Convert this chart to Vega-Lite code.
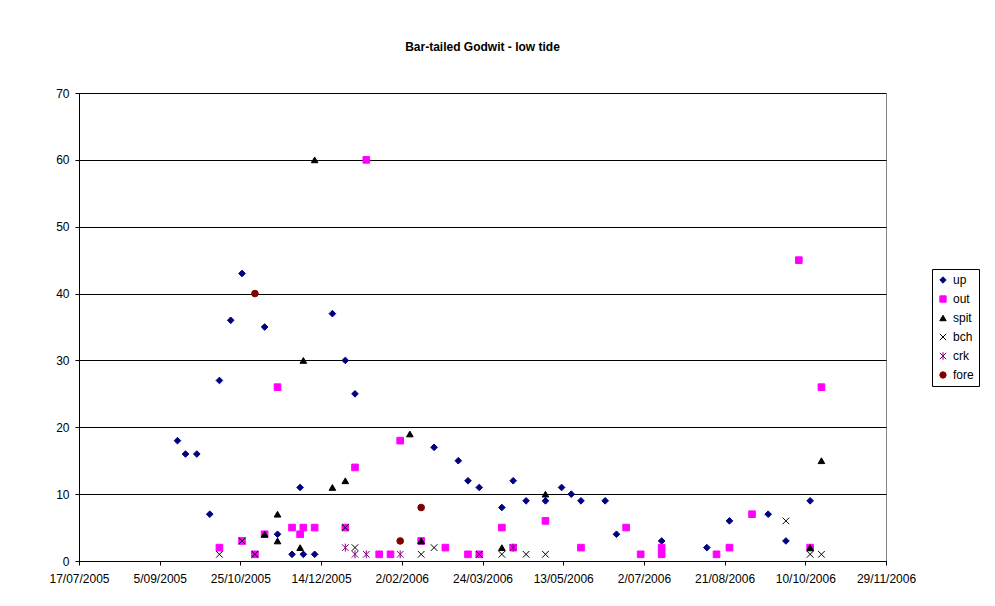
{
  "$schema": "https://vega.github.io/schema/vega-lite/v6.json",
  "autosize": {"type": "none"},
  "width": 807,
  "height": 468,
  "padding": {"left": 79, "top": 93, "right": 109, "bottom": 45},
  "background": "white",
  "title": {"text": "Bar-tailed Godwit - low tide", "font": "Liberation Sans", "fontSize": 12, "fontWeight": "bold", "color": "black", "anchor": "middle", "frame": "group", "baseline": "alphabetic", "offset": 24},
  "config": {
    "view": {"stroke": "#808080", "strokeWidth": 1},
    "axis": {"labelFont": "Liberation Sans", "labelFontSize": 12, "labelColor": "black", "domainColor": "black", "tickColor": "black", "tickSize": 4, "title": null},
    "legend": {"labelFont": "Liberation Sans", "labelFontSize": 12, "labelColor": "black"}
  },
  "data": {"values": [
    {"date": "2005-09-16", "series": "up", "count": 18},
    {"date": "2005-09-21", "series": "up", "count": 16},
    {"date": "2005-09-28", "series": "up", "count": 16},
    {"date": "2005-10-06", "series": "up", "count": 7},
    {"date": "2005-10-12", "series": "up", "count": 27},
    {"date": "2005-10-19", "series": "up", "count": 36},
    {"date": "2005-10-26", "series": "up", "count": 43},
    {"date": "2005-11-09", "series": "up", "count": 35},
    {"date": "2005-11-17", "series": "up", "count": 4},
    {"date": "2005-11-26", "series": "up", "count": 1},
    {"date": "2005-12-01", "series": "up", "count": 11},
    {"date": "2005-12-03", "series": "up", "count": 1},
    {"date": "2005-12-10", "series": "up", "count": 1},
    {"date": "2005-12-21", "series": "up", "count": 37},
    {"date": "2005-12-29", "series": "up", "count": 30},
    {"date": "2006-01-04", "series": "up", "count": 25},
    {"date": "2006-02-22", "series": "up", "count": 17},
    {"date": "2006-03-09", "series": "up", "count": 15},
    {"date": "2006-03-15", "series": "up", "count": 12},
    {"date": "2006-03-22", "series": "up", "count": 11},
    {"date": "2006-04-05", "series": "up", "count": 8},
    {"date": "2006-04-12", "series": "up", "count": 12},
    {"date": "2006-04-20", "series": "up", "count": 9},
    {"date": "2006-05-02", "series": "up", "count": 9},
    {"date": "2006-05-12", "series": "up", "count": 11},
    {"date": "2006-05-18", "series": "up", "count": 10},
    {"date": "2006-05-24", "series": "up", "count": 9},
    {"date": "2006-06-08", "series": "up", "count": 9},
    {"date": "2006-06-15", "series": "up", "count": 4},
    {"date": "2006-07-13", "series": "up", "count": 3},
    {"date": "2006-08-10", "series": "up", "count": 2},
    {"date": "2006-08-24", "series": "up", "count": 6},
    {"date": "2006-09-17", "series": "up", "count": 7},
    {"date": "2006-09-28", "series": "up", "count": 3},
    {"date": "2006-10-13", "series": "up", "count": 9},
    {"date": "2005-10-12", "series": "out", "count": 2},
    {"date": "2005-10-26", "series": "out", "count": 3},
    {"date": "2005-11-03", "series": "out", "count": 1},
    {"date": "2005-11-09", "series": "out", "count": 4},
    {"date": "2005-11-17", "series": "out", "count": 26},
    {"date": "2005-11-26", "series": "out", "count": 5},
    {"date": "2005-12-01", "series": "out", "count": 4},
    {"date": "2005-12-03", "series": "out", "count": 5},
    {"date": "2005-12-10", "series": "out", "count": 5},
    {"date": "2005-12-29", "series": "out", "count": 5},
    {"date": "2006-01-04", "series": "out", "count": 14},
    {"date": "2006-01-11", "series": "out", "count": 60},
    {"date": "2006-01-19", "series": "out", "count": 1},
    {"date": "2006-01-26", "series": "out", "count": 1},
    {"date": "2006-02-01", "series": "out", "count": 18},
    {"date": "2006-02-14", "series": "out", "count": 3},
    {"date": "2006-03-01", "series": "out", "count": 2},
    {"date": "2006-03-15", "series": "out", "count": 1},
    {"date": "2006-03-22", "series": "out", "count": 1},
    {"date": "2006-04-05", "series": "out", "count": 5},
    {"date": "2006-04-12", "series": "out", "count": 2},
    {"date": "2006-05-02", "series": "out", "count": 6},
    {"date": "2006-05-24", "series": "out", "count": 2},
    {"date": "2006-06-21", "series": "out", "count": 5},
    {"date": "2006-06-30", "series": "out", "count": 1},
    {"date": "2006-07-13", "series": "out", "count": 2},
    {"date": "2006-07-13", "series": "out", "count": 1},
    {"date": "2006-08-16", "series": "out", "count": 1},
    {"date": "2006-08-24", "series": "out", "count": 2},
    {"date": "2006-09-07", "series": "out", "count": 7},
    {"date": "2006-10-06", "series": "out", "count": 45},
    {"date": "2006-10-13", "series": "out", "count": 2},
    {"date": "2006-10-20", "series": "out", "count": 26},
    {"date": "2005-11-09", "series": "spit", "count": 4},
    {"date": "2005-11-17", "series": "spit", "count": 7},
    {"date": "2005-11-17", "series": "spit", "count": 3},
    {"date": "2005-12-01", "series": "spit", "count": 2},
    {"date": "2005-12-03", "series": "spit", "count": 30},
    {"date": "2005-12-10", "series": "spit", "count": 60},
    {"date": "2005-12-21", "series": "spit", "count": 11},
    {"date": "2005-12-29", "series": "spit", "count": 12},
    {"date": "2006-02-07", "series": "spit", "count": 19},
    {"date": "2006-02-14", "series": "spit", "count": 3},
    {"date": "2006-04-05", "series": "spit", "count": 2},
    {"date": "2006-05-02", "series": "spit", "count": 10},
    {"date": "2006-10-13", "series": "spit", "count": 2},
    {"date": "2006-10-20", "series": "spit", "count": 15},
    {"date": "2005-10-12", "series": "bch", "count": 1},
    {"date": "2005-10-26", "series": "bch", "count": 3},
    {"date": "2005-11-03", "series": "bch", "count": 1},
    {"date": "2005-12-29", "series": "bch", "count": 5},
    {"date": "2006-01-04", "series": "bch", "count": 2},
    {"date": "2006-02-14", "series": "bch", "count": 1},
    {"date": "2006-02-22", "series": "bch", "count": 2},
    {"date": "2006-03-22", "series": "bch", "count": 1},
    {"date": "2006-04-05", "series": "bch", "count": 1},
    {"date": "2006-04-20", "series": "bch", "count": 1},
    {"date": "2006-05-02", "series": "bch", "count": 1},
    {"date": "2006-09-28", "series": "bch", "count": 6},
    {"date": "2006-10-13", "series": "bch", "count": 1},
    {"date": "2006-10-20", "series": "bch", "count": 1},
    {"date": "2005-12-29", "series": "crk", "count": 2},
    {"date": "2006-01-04", "series": "crk", "count": 1},
    {"date": "2006-01-11", "series": "crk", "count": 1},
    {"date": "2006-02-01", "series": "crk", "count": 1},
    {"date": "2006-04-12", "series": "crk", "count": 2},
    {"date": "2005-11-03", "series": "fore", "count": 40},
    {"date": "2006-02-01", "series": "fore", "count": 3},
    {"date": "2006-02-14", "series": "fore", "count": 8}
  ]},
  "mark": {"type": "point", "filled": true, "opacity": 1, "size": 44, "strokeWidth": 1},
  "encoding": {
    "x": {
      "field": "date", "type": "temporal",
      "scale": {"type": "utc", "domain": [{"year": 2005, "month": 7, "date": 17, "utc": true}, {"year": 2006, "month": 11, "date": 29, "utc": true}], "nice": false},
      "axis": {
        "grid": false, "labelExpr": "utcFormat(datum.value, '%-d/%m/%Y')", "labelPadding": 8, "labelAngle": 0,
        "values": [
          {"year": 2005, "month": 7, "date": 17, "utc": true},
          {"year": 2005, "month": 9, "date": 5, "utc": true},
          {"year": 2005, "month": 10, "date": 25, "utc": true},
          {"year": 2005, "month": 12, "date": 14, "utc": true},
          {"year": 2006, "month": 2, "date": 2, "utc": true},
          {"year": 2006, "month": 3, "date": 24, "utc": true},
          {"year": 2006, "month": 5, "date": 13, "utc": true},
          {"year": 2006, "month": 7, "date": 2, "utc": true},
          {"year": 2006, "month": 8, "date": 21, "utc": true},
          {"year": 2006, "month": 10, "date": 10, "utc": true},
          {"year": 2006, "month": 11, "date": 29, "utc": true}
        ],
        "labelOverlap": false, "labelFlush": false
      }
    },
    "y": {
      "field": "count", "type": "quantitative",
      "scale": {"domain": [0, 70], "nice": false},
      "axis": {"values": [0, 10, 20, 30, 40, 50, 60, 70], "grid": true, "gridColor": "black", "gridOpacity": 1, "labelPadding": 6}
    },
    "shape": {
      "field": "series", "type": "nominal",
      "scale": {"domain": ["up", "out", "spit", "bch", "crk", "fore"], "range": ["diamond", "square", "triangle-up", "M-1,-1L1,1M-1,1L1,-1", "M-1,-1L1,1M-1,1L1,-1M0,-1.2L0,1.2", "circle"]},
      "legend": {"title": null, "orient": "none", "legendX": 853, "legendY": 176, "strokeColor": "black", "padding": 5, "rowPadding": 7, "symbolSize": 40, "labelOffset": 4, "symbolStrokeWidth": 1}
    },
    "fill": {
      "field": "series", "type": "nominal",
      "scale": {"domain": ["up", "out", "spit", "bch", "crk", "fore"], "range": ["#000080", "#FF00FF", "#000000", "#000000", "#800080", "#800000"]},
      "legend": {"title": null, "orient": "none", "legendX": 853, "legendY": 176, "strokeColor": "black", "padding": 5, "rowPadding": 7, "symbolSize": 40, "labelOffset": 4}
    },
    "stroke": {
      "field": "series", "type": "nominal",
      "scale": {"domain": ["up", "out", "spit", "bch", "crk", "fore"], "range": ["#000080", "#FF00FF", "#000000", "#000000", "#800080", "#800000"]},
      "legend": {"title": null, "orient": "none", "legendX": 853, "legendY": 176, "strokeColor": "black", "padding": 5, "rowPadding": 7, "symbolSize": 40, "labelOffset": 4}
    }
  }
}
